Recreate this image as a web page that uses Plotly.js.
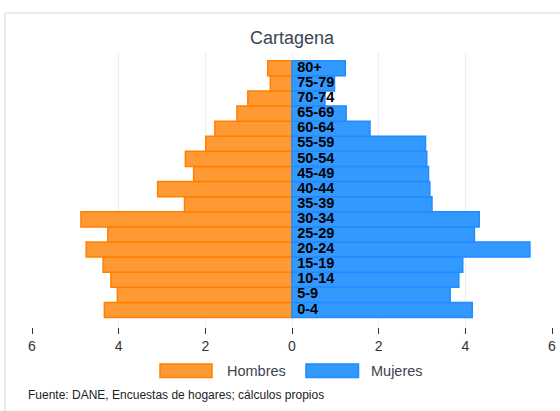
<!DOCTYPE html>
<html>
<head>
<meta charset="utf-8">
<script src="https://cdn.plot.ly/plotly-3.0.1.min.js"></script>
<style>
  html, body { margin: 0; padding: 0; background: #ffffff; }
  #chart { width: 560px; height: 411px; }
</style>
</head>
<body>
<div id="chart"></div>
<script>
// Data
const ages = ['0-4','5-9','10-14','15-19','20-24','25-29','30-34','35-39','40-44','45-49','50-54','55-59','60-64','65-69','70-74','75-79','80+'];
const hombres = [4.33, 4.03, 4.18, 4.36, 4.75, 4.25, 4.87, 2.48, 3.10, 2.27, 2.46, 1.99, 1.78, 1.27, 1.02, 0.50, 0.56];
const mujeres = [4.16, 3.65, 3.85, 3.94, 5.49, 4.21, 4.32, 3.23, 3.18, 3.15, 3.11, 3.08, 1.80, 1.25, 0.76, 0.98, 1.23];
const tickValues = [-6, -4, -2, 0, 2, 4, 6];
const tickLabels = ['6', '4', '2', '0', '2', '4', '6'];
const seriesNames = ['Hombres', 'Mujeres'];
const titleText = 'Cartagena';
const sourceText = 'Fuente: DANE, Encuestas de hogares; cálculos propios';

const orangeFill = '#ff9933', orangeLine = '#ff8000';
const blueFill = '#3399ff', blueLine = '#1f8cff';
const labelOffset = 0.12; // small gap between the axis and the age labels

const traces = [
  {
    type: 'bar', orientation: 'h', name: seriesNames[0],
    y: ages, x: hombres.map(v => -v),
    marker: { color: orangeFill, line: { color: orangeLine, width: 1.5 } },
    hoverinfo: 'skip', showlegend: false
  },
  {
    type: 'bar', orientation: 'h', name: seriesNames[1],
    y: ages, x: mujeres,
    marker: { color: blueFill, line: { color: blueLine, width: 1.5 } },
    hoverinfo: 'skip', showlegend: false
  },
  {
    type: 'scatter', mode: 'text',
    y: ages, x: ages.map(() => labelOffset),
    text: ages, textposition: 'middle right',
    textfont: { family: 'Liberation Sans, Arial, sans-serif', size: 14.5, color: '#000000', weight: 'bold' },
    hoverinfo: 'skip', showlegend: false
  }
];

// plot area in pixels: x 32..552, y 52..327
const L = 32, T = 52, W = 520, H = 275;
const px = x => (x - L) / W;
const py = y => (T + H - y) / H;

const legendItems = [
  { x0: 160, x1: 212, tx: 224.5, fill: orangeFill, line: orangeLine, label: seriesNames[0] },
  { x0: 306, x1: 358.5, tx: 368.5, fill: blueFill, line: blueLine, label: seriesNames[1] }
];

const shapes = [];
const annotations = [];
legendItems.forEach(it => {
  shapes.push({
    type: 'rect', xref: 'paper', yref: 'paper',
    x0: px(it.x0), x1: px(it.x1), y0: py(377.5), y1: py(364),
    fillcolor: it.fill, line: { color: it.line, width: 1.5 }
  });
  annotations.push({
    xref: 'paper', yref: 'paper', x: px(it.tx), y: py(370.5),
    xanchor: 'left', yanchor: 'middle', showarrow: false, text: it.label,
    font: { family: 'Liberation Sans, Arial, sans-serif', size: 14.5, color: '#3c4452' }
  });
});
annotations.push({
  xref: 'paper', yref: 'paper', x: px(25.5), y: py(395),
  xanchor: 'left', yanchor: 'middle', showarrow: false, text: sourceText,
  font: { family: 'Liberation Sans, Arial, sans-serif', size: 12, color: '#222222' }
});
// light frame
shapes.push({ type: 'line', xref: 'paper', yref: 'paper', x0: px(5), x1: px(5), y0: py(13), y1: py(420), line: { color: '#e4ebee', width: 2 } });
shapes.push({ type: 'line', xref: 'paper', yref: 'paper', x0: px(5), x1: px(570), y0: py(13), y1: py(13), line: { color: '#e4ebee', width: 2 } });

const layout = {
  width: 560, height: 411,
  margin: { l: L, r: 560 - L - W, t: T, b: 411 - T - H, pad: 0 },
  paper_bgcolor: '#ffffff', plot_bgcolor: '#ffffff',
  title: {
    text: titleText, x: 0.5, xanchor: 'center', xref: 'paper',
    y: 1 - 38 / 411, yanchor: 'middle',
    font: { family: 'Liberation Sans, Arial, sans-serif', size: 18, color: '#3a4556' }
  },
  barmode: 'overlay', bargap: 0,
  xaxis: {
    range: [-6, 6], tickvals: tickValues, ticktext: tickLabels,
    showgrid: true, gridcolor: '#eaf0f2', gridwidth: 1, zeroline: false,
    ticks: 'outside', ticklen: 6, tickcolor: '#333333', tickwidth: 1,
    tickfont: { family: 'Liberation Sans, Arial, sans-serif', size: 14, color: '#333333' },
    showline: false, fixedrange: true
  },
  yaxis: {
    type: 'category', range: [-1.13, 17.08],
    showticklabels: false, showgrid: false, zeroline: false, ticks: '', showline: false, fixedrange: true
  },
  shapes: shapes,
  annotations: annotations,
  showlegend: false
};

Plotly.newPlot('chart', traces, layout, { displayModeBar: false, staticPlot: true });
</script>
</body>
</html>
